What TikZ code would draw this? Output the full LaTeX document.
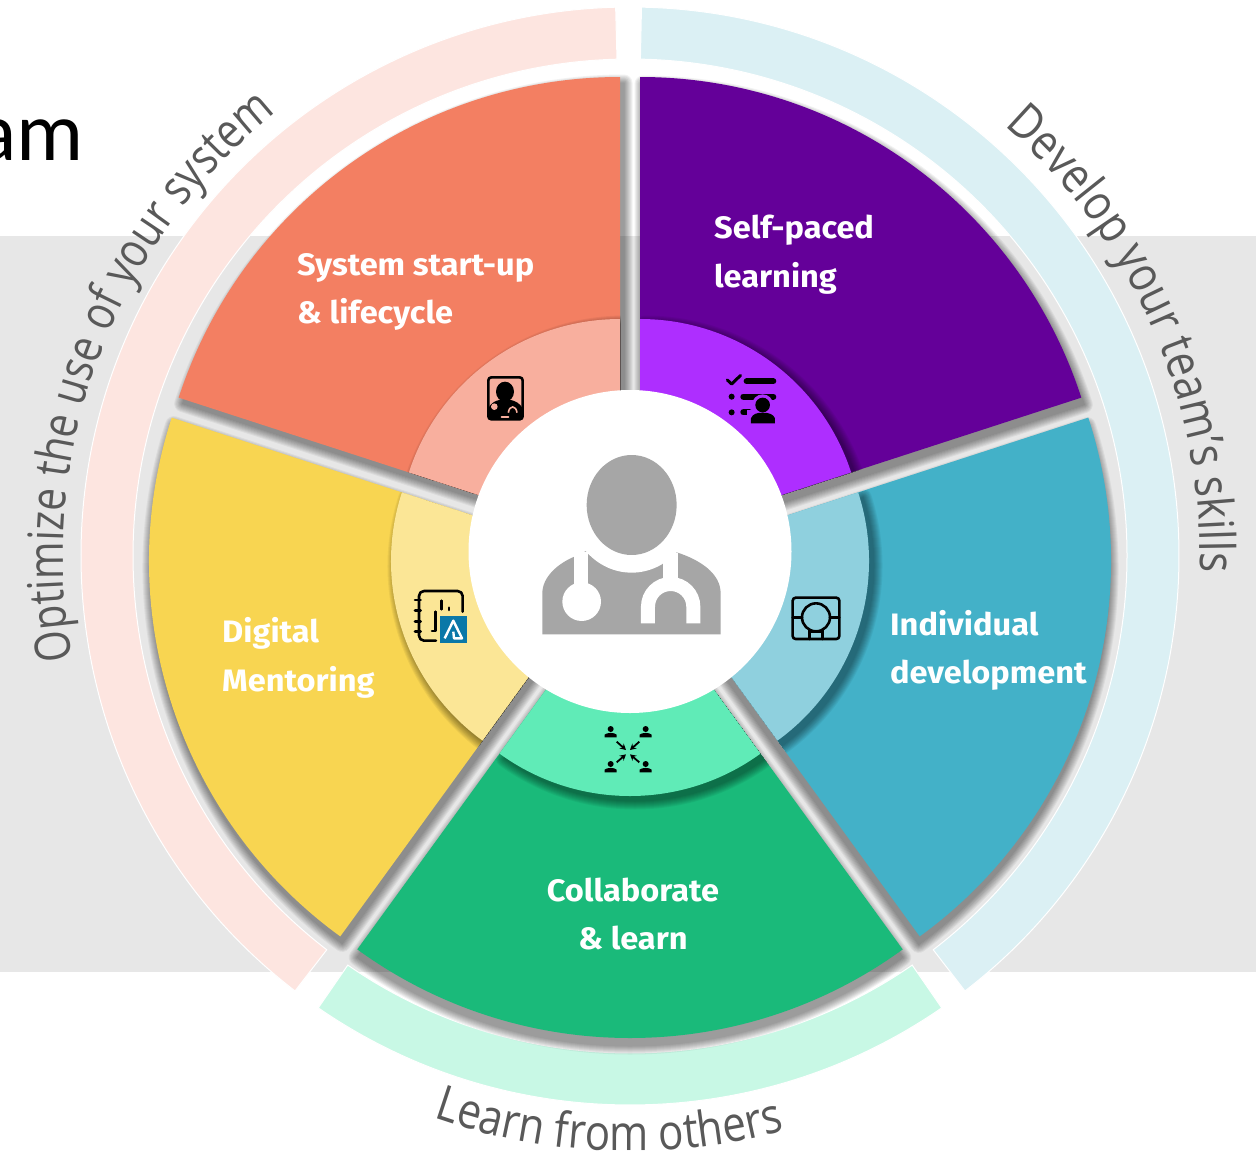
\documentclass[tikz,border=0pt]{standalone}
\usepackage{fontspec}
\usetikzlibrary{calc,decorations.text,arrows.meta}
\setmainfont{Open Sans}
\newfontfamily\arcfontA[FakeStretch=0.825]{Open Sans}
\newfontfamily\arcfontB[FakeStretch=0.855]{Open Sans}
\newfontfamily\arcfontC[FakeStretch=0.86]{Open Sans}
\newfontfamily\labfont[FakeStretch=1.05]{Fira Sans}
\newfontfamily\amfont{Carlito}
\definecolor{bggray}{HTML}{E7E7E7}
\definecolor{orangeA}{HTML}{F37F62}\definecolor{orangeB}{HTML}{F8AF9E}
\definecolor{purpleA}{HTML}{640099}\definecolor{purpleB}{HTML}{AE2EFF}
\definecolor{tealA}{HTML}{43B1C8}\definecolor{tealB}{HTML}{8FD0DE}
\definecolor{greenA}{HTML}{1ABA7A}\definecolor{greenB}{HTML}{60EBB7}
\definecolor{yellowA}{HTML}{F8D551}\definecolor{yellowB}{HTML}{FBE696}
\definecolor{bandP}{HTML}{FDE5E0}\definecolor{bandB}{HTML}{DBF0F4}\definecolor{bandG}{HTML}{C8F8E5}
\definecolor{arcgray}{HTML}{595959}\definecolor{docgray}{HTML}{A6A6A6}
\definecolor{logoblue}{HTML}{0A78A8}
\newcommand{\annul}[6]{([shift={(#3:#5)}]#1,#2) arc[start angle=#3,end angle=#4,radius=#5] -- ([shift={(#4:#6)}]#1,#2) arc[start angle=#4,end angle=#3,radius=#6] -- cycle}
\newcommand{\pie}[5]{([shift={(#3:#5)}]#1,#2) arc[start angle=#3,end angle=#4,radius=#5] -- (#1,#2) -- cycle}
% soft shadow: stacked, widening translucent copies of a shape, #1 = path, #2,#3 = offset, #4 = opacity of one copy
\newcommand{\softshadow}[4]{\foreach \shw in {1,3,...,17}{\begin{scope}[transparency group,opacity=#4]\path[fill=black,draw=black,line join=round,line width=\shw pt,shift={(#2,#3)}] #1;\end{scope}}}
\tikzset{
  lab/.style={text=white,font=\labfont\bfseries\fontsize{31}{31}\selectfont,inner sep=0pt},
  band/.style={draw=white,line width=1pt},
  icon/.style={draw=black,line width=2.6pt,line cap=round,line join=round},
  arctext/.style={decorate,decoration={text along path,text align=fit to path stretching spaces,text color=arcgray}}
}
\begin{document}
\begin{tikzpicture}[x=1pt,y=-1pt]
\useasboundingbox (0,0) rectangle (1256,1152);
\fill[white] (0,0) rectangle (1256,1152);
\fill[bggray] (0,236) rectangle (1256,972);
\node[anchor=base west,inner sep=0pt,font=\amfont\fontsize{84}{84}\selectfont] (am) at (-24,160) {am};
% outer bands
\path[band,fill=bandP] \annul{630}{556}{127.6}{268.5}{549}{497};
\path[band,fill=bandB] \annul{630}{556}{-88.8}{52.4}{549}{497};
\path[band,fill=bandG] \annul{630}{556}{55.4}{124.6}{549}{497};
% curved labels
\path[arctext,decoration={text={|\arcfontA\fontsize{49}{49}\selectfont|Optimize the use of your system}}] ([shift={(169.5:567)}]630,556) arc[start angle=169.5,end angle=231.4,radius=567];
\path[arctext,decoration={text={|\arcfontB\fontsize{49}{49}\selectfont|Develop your team’s skills}}] ([shift={(-49:570)}]630,556) arc[start angle=-49,end angle=1.4,radius=570];
\path[arctext,decoration={text={|\arcfontC\fontsize{49}{49}\selectfont|Learn from others}}] ([shift={(109.3:595)}]630,556) arc[start angle=109.3,end angle=74.9,radius=595];
% sector shadows
\softshadow{\pie{613}{561}{126}{198}{464}}{2}{7}{0.05}
\softshadow{\pie{647}{561}{-18}{54}{464}}{-1}{8}{0.05}
\softshadow{\pie{630}{574}{54}{126}{464}}{0}{8}{0.05}
\softshadow{\pie{620}{541}{198}{270}{464}}{4}{6}{0.05}
\softshadow{\pie{640}{541}{-90}{-18}{464}}{3}{7}{0.05}
% sectors
\fill[yellowA] \pie{613}{561}{126}{198}{464};
\fill[tealA] \pie{647}{561}{-18}{54}{464};
\fill[greenA] \pie{630}{574}{54}{126}{464};
\fill[orangeA] \pie{620}{541}{198}{270}{464};
\fill[purpleA] \pie{640}{541}{-90}{-18}{464};
% inner rings with shadow kept inside the sector
\begin{scope}\clip \pie{613}{561}{126}{198}{464};
\softshadow{\pie{613}{561}{126}{198}{222}}{5}{5}{0.05}
\fill[yellowB] \pie{613}{561}{126}{198}{222};
\end{scope}
\begin{scope}\clip \pie{647}{561}{-18}{54}{464};
\softshadow{\pie{647}{561}{-18}{54}{222}}{5}{5}{0.05}
\fill[tealB] \pie{647}{561}{-18}{54}{222};
\end{scope}
\begin{scope}\clip \pie{630}{574}{54}{126}{464};
\softshadow{\pie{630}{574}{54}{126}{222}}{5}{5}{0.05}
\fill[greenB] \pie{630}{574}{54}{126}{222};
\end{scope}
\begin{scope}\clip \pie{620}{541}{198}{270}{464};
\softshadow{\pie{620}{541}{198}{270}{222}}{5}{5}{0.05}
\fill[orangeB] \pie{620}{541}{198}{270}{222};
\end{scope}
\begin{scope}\clip \pie{640}{541}{-90}{-18}{464};
\softshadow{\pie{640}{541}{-90}{-18}{222}}{5}{5}{0.05}
\fill[purpleB] \pie{640}{541}{-90}{-18}{222};
\end{scope}
% centre
\fill[white] (630,551.5) circle [radius=161.5];
% doctor
\begin{scope}[shift={(520,440)},x=0.3333pt,y=-0.3333pt]
\fill[docgray] (67,583) -- (67,460) .. controls (67,410) and (115,370) .. (163,350) -- (205,330) -- (430,330) -- (473,338) .. controls (540,360) and (602,400) .. (602,460) -- (602,583) -- cycle;
\fill[white] (335,195) ellipse [x radius=188,y radius=203];
\fill[docgray] (335,195) ellipse [x radius=135,y radius=150];
\fill[white] (163,335) rectangle (205,440);
\fill[white] (185,485) circle [radius=58];
\fill[white] (430,340) rectangle (473,425);
\draw[white,line width=14pt] (384,550) -- (384,500) arc[start angle=180,end angle=360,radius=68] -- (520,550);
\end{scope}
% icon: orange
\begin{scope}[shift={(470,360)},x=0.3333pt,y=-0.3333pt]
\draw[icon] (55,52) [rounded corners=3pt] rectangle (158,178);
\fill[black] (105,95) ellipse [x radius=27,y radius=30];
\fill[black] (55,178) -- (55,145) .. controls (65,125) and (80,122) .. (88,120) -- (122,120) .. controls (135,122) and (150,130) .. (158,145) -- (158,178) -- cycle;
\fill[orangeB] (73,140) circle [radius=10];
\draw[orangeB,line width=1.6pt] (115,158) .. controls (118,135) and (138,135) .. (141,158);
\draw[orangeB,line width=2pt,line cap=round] (95,170) -- (115,170);
\end{scope}
% icon: purple
\begin{scope}[shift={(470,360)},x=0.3333pt,y=-0.3333pt]
\draw[black,line width=3pt,line cap=round,line join=round] (772,60) -- (785,72) -- (812,46);
\draw[black,line width=6pt,line cap=round] (830,64) -- (910,64);
\draw[black,line width=6pt,line cap=round] (820,110) -- (910,110);
\draw[black,line width=6pt,line cap=round] (820,157) -- (838,157);
\fill[black] (785,110) circle [radius=9];
\fill[black] (785,157) circle [radius=9];
\fill[purpleB] (878,135) circle [radius=32];
\fill[purpleB] (832,150) rectangle (925,195);
\fill[black] (878,135) circle [radius=22];
\fill[black] (843,190) -- (843,175) .. controls (848,162) and (860,158) .. (878,158) .. controls (896,158) and (910,162) .. (915,175) -- (915,190) -- cycle;
\end{scope}
% icon: yellow
\begin{scope}[shift={(400,570)},x=0.3333pt,y=-0.3333pt]
\draw[icon,rounded corners=5pt] (108,212) -- (57,212) -- (57,63) -- (188,63) -- (188,125);
\foreach \yy in {90,122,155,185} {\draw[icon] (45,\yy) -- (62,\yy);}
\draw[icon] (125,92) -- (125,118);
\draw[icon] (147,113) -- (147,120);
\draw[icon] (107,125) -- (107,155);
\draw[icon] (107,155) -- (107,183) -- (96,183);
\fill[logoblue] (120,138) rectangle (200,218);
\draw[white,line width=2.4pt,line join=round] (134,205) -- (160,152) -- (186,205) -- (162,205) -- (160,185);
\end{scope}
% icon: teal
\begin{scope}[shift={(770,580)},x=0.3333pt,y=-0.3333pt]
\draw[icon,rounded corners=3pt] (68,53) rectangle (208,177);
\draw[icon] (138,112) circle [radius=42];
\draw[icon] (68,112) -- (96,112);
\draw[icon] (180,112) -- (208,112);
\draw[icon] (118,150) -- (118,177);
\draw[icon] (158,150) -- (158,177);
\draw[icon] (118,155) -- (158,155);
\end{scope}
% icon: green
\begin{scope}[shift={(590,715)},x=0.3333pt,y=-0.3333pt]
\foreach \px/\py in {62/50,167/50,62/155,167/155} {
  \fill[black] (\px,\py-8) circle [radius=9];
  \fill[black] (\px-18,\py+17) -- (\px-18,\py+9) .. controls (\px-12,\py+2) and (\px+12,\py+2) .. (\px+18,\py+9) -- (\px+18,\py+17) -- cycle;
}
\draw[black,line width=1.8pt,-{Stealth[length=6pt,width=6.5pt]}] (80,80) -- (108,105);
\draw[black,line width=1.8pt,-{Stealth[length=6pt,width=6.5pt]}] (148,80) -- (120,105);
\draw[black,line width=1.8pt,-{Stealth[length=6pt,width=6.5pt]}] (80,142) -- (108,118);
\draw[black,line width=1.8pt,-{Stealth[length=6pt,width=6.5pt]}] (148,142) -- (120,118);
\end{scope}
% labels
\node[lab,anchor=base west] (s1) at (297,275) {System start-up};
\node[lab,anchor=base west] (s2) at (297,323) {\& lifecycle};
\node[lab,anchor=base west] (p1) at (714,238) {Self-paced};
\node[lab,anchor=base west] (p2) at (714,287) {learning};
\node[lab,anchor=base west] (d1) at (222,642) {Digital};
\node[lab,anchor=base west] (d2) at (222,691) {Mentoring};
\node[lab,anchor=base west] (i1) at (890,635) {Individual};
\node[lab,anchor=base west] (i2) at (890,683) {development};
\node[lab,anchor=base] (c1) at (633,901) {Collaborate};
\node[lab,anchor=base] (c2) at (633,949) {\& learn};
\end{tikzpicture}
\end{document}
